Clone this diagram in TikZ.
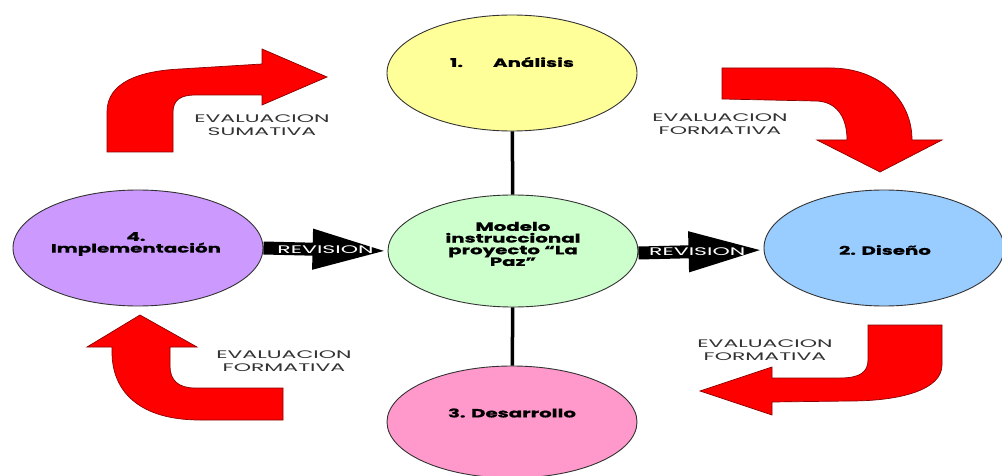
\documentclass[tikz,border=0pt]{standalone}
\usepackage{fontspec}
\setmainfont{Poppins}
\newfontfamily\evfont[FakeStretch=2.0]{Poppins}
\newfontfamily\bfont[FakeStretch=1.65,FakeBold=0.8]{Poppins}
\usetikzlibrary{shapes.geometric,arrows.meta}
\definecolor{cyel}{HTML}{FFFF99}
\definecolor{cgrn}{HTML}{CCFFCC}
\definecolor{cpur}{HTML}{CC99FF}
\definecolor{cblu}{HTML}{99CCFF}
\definecolor{cpnk}{HTML}{FF99CC}
\definecolor{cred}{HTML}{FF0000}
\definecolor{credline}{HTML}{8A0000}
\definecolor{cline}{HTML}{333333}
\tikzset{
  phase/.style={ellipse, draw=cline, line width=0.9pt, inner sep=0pt,
    minimum width=250pt, minimum height=116pt},
  phasetext/.style={font=\bfont\bfseries\fontsize{12}{11.7}\selectfont, align=center, text=black, inner sep=0pt},
  evtext/.style={font=\evfont\fontsize{11}{13}\selectfont, align=center, text=black!80, inner sep=0pt},
  revarrow/.style={line width=13pt, -{Triangle[width=37pt,length=75pt]}},
  revtext/.style={font=\evfont\fontsize{11}{13}\selectfont, text=white, inner sep=0pt},
  bentarrow/.style={fill=cred, draw=credline, line width=0.7pt, line join=miter},
  spoke/.style={line width=3.5pt}
}
\begin{document}
\begin{tikzpicture}[x=1pt,y=-1pt]
\fill[white] (0,0) rectangle (1002,476);
\useasboundingbox (0,0) rectangle (1002,476);

% phases
\node[phase, fill=cyel] (analisis) at (512,73) {};
\node[phase, fill=cgrn, minimum height=112pt] (modelo) at (513,251) {};
\node[phase, fill=cpur] (impl) at (138,248) {};
\node[phase, fill=cblu, minimum width=240pt] (diseno) at (884,248) {};
\node[phase, fill=cpnk, minimum height=112pt] (desarrollo) at (512,422) {};

% spokes
\draw[spoke] (analisis) -- (modelo);
\draw[spoke] (modelo) -- (desarrollo);

% texts in phases
\node[phasetext] (t1) at (512,62) {1.\hspace{30pt}Análisis};
\node[phasetext] (t0) at (513,244) {Modelo\\instruccional\\proyecto “La\\Paz”};
\node[phasetext] (t4) at (136,244) {4.\\Implementación};
\node[phasetext] (t2) at (885,250) {2. Diseño};
\node[phasetext] (t3) at (512,413) {3. Desarrollo};

% revision arrows
\draw[revarrow] (impl.east) -- (modelo.west)
  node[revtext, midway] (rev1) {REVISION};
\draw[revarrow] ([yshift=-2pt]modelo.east) -- ([yshift=-2pt]diseno.west)
  node[revtext, pos=0.47] (rev2) {REVISION};

% red bent arrows
\filldraw[bentarrow] (107,152) -- (107,112) .. controls (107,82) and (140,71) .. (180,69)
  -- (262,64) -- (262,49) -- (327,77) -- (262,105) -- (262,95) -- (195,95)
  .. controls (181,95) and (173,100) .. (173,112) -- (173,152) -- cycle;
\filldraw[bentarrow] (722,68) -- (830,68) .. controls (880,68) and (912,100) .. (912,140)
  -- (942,140) -- (880,172) -- (817,140) -- (847,140)
  .. controls (847,115) and (835,101) .. (815,101) -- (722,99) -- cycle;
\filldraw[bentarrow] (87,347) -- (140,315) -- (197,347) -- (170,347) -- (170,366)
  .. controls (170,380) and (178,388) .. (195,388) -- (283,388) -- (283,420) -- (200,420)
  .. controls (140,420) and (112,392) .. (112,352) -- (112,347) -- cycle;
\filldraw[bentarrow] (868,325) -- (942,325) -- (942,365)
  .. controls (942,390) and (900,401) .. (850,401) -- (772,402) -- (772,415)
  -- (700,391) -- (772,367) -- (772,378) -- (840,378)
  .. controls (860,378) and (868,372) .. (868,360) -- cycle;

% evaluation labels
\node[evtext] (ev1) at (262,125) {EVALUACION\\SUMATIVA};
\node[evtext] (ev2) at (720,124) {EVALUACION\\FORMATIVA};
\node[evtext] (ev3) at (284,361) {EVALUACION\\FORMATIVA};
\node[evtext] (ev4) at (765,350) {EVALUACION\\FORMATIVA};
\end{tikzpicture}
\end{document}
